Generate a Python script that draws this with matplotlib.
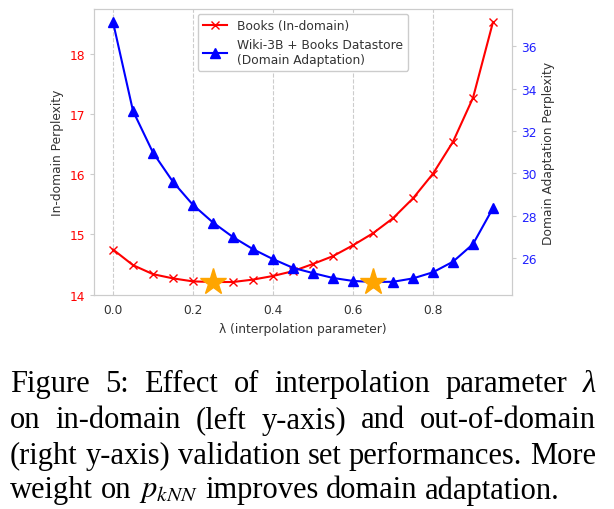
import numpy as np
import matplotlib
matplotlib.use("Agg")
import matplotlib.pyplot as plt

lam = [0.0, 0.05, 0.1, 0.15, 0.2, 0.25, 0.3, 0.35, 0.4, 0.45,
       0.5, 0.55, 0.6, 0.65, 0.7, 0.75, 0.8, 0.85, 0.9, 0.95]
books_ppl = [14.75, 14.49, 14.34, 14.27, 14.22, 14.21, 14.21, 14.25, 14.31, 14.39,
             14.51, 14.64, 14.82, 15.02, 15.27, 15.60, 16.01, 16.54, 17.27, 18.53]
adapt_ppl = [37.15, 32.95, 30.98, 29.60, 28.51, 27.68, 26.99, 26.42, 25.95, 25.54,
             25.29, 25.06, 24.92, 24.87, 24.88, 25.04, 25.33, 25.83, 26.66, 28.36]
best_books = (0.25, 14.21)
best_adapt = (0.65, 24.87)

caption_lines = [
    "Figure 5:  Effect of interpolation parameter λ",
    "on in-domain (left y-axis) and out-of-domain",
    "(right y-axis) validation set performances. More",
    r"weight on $p_{kNN}$ improves domain adaptation.",
]

plt.rcParams["font.family"] = "DejaVu Sans"
plt.rcParams["mathtext.fontset"] = "stix"

W, H = 614, 510
fig = plt.figure(figsize=(W / 100, H / 100), dpi=100)
ax = fig.add_axes([94 / W, 1 - 296 / H, (512 - 94) / W, (296 - 10) / H])
ax2 = ax.twinx()

fs = 8.8
txt = "#333333"
spine_c = "#cccccc"

l1, = ax.plot(lam, books_ppl, color="red", marker="x", markersize=6, lw=1.5,
              label="Books (In-domain)")
l2, = ax2.plot(lam, adapt_ppl, color="blue", marker="^", markersize=7, lw=1.5,
               label="Wiki-3B + Books Datastore\n(Domain Adaptation)")
ax.plot(*best_books, marker="*", color="orange", markersize=20, zorder=5)
ax2.plot(*best_adapt, marker="*", color="orange", markersize=20, zorder=5)

ax.set_xticks([0.0, 0.2, 0.4, 0.6, 0.8])
ax.set_yticks([14, 15, 16, 17, 18])
ax2.set_yticks([26, 28, 30, 32, 34, 36])
ax.xaxis.grid(True, linestyle="--", color="#cccccc", lw=0.8)
ax.set_axisbelow(True)

ax.set_xlabel("λ (interpolation parameter)", fontsize=fs, color=txt)
ax.set_ylabel("In-domain Perplexity", fontsize=fs, color=txt)
ax2.set_ylabel("Domain Adaptation Perplexity", fontsize=fs, color=txt)

ax.tick_params(axis="x", length=0, labelsize=fs, labelcolor=txt, pad=6)
ax.tick_params(axis="y", length=3, color=spine_c, labelsize=fs, labelcolor="red")
ax2.tick_params(axis="y", length=3, color=spine_c, labelsize=fs, labelcolor="#2020ff")
for a in (ax, ax2):
    for s in a.spines.values():
        s.set_color(spine_c)

leg = ax.legend(handles=[l1, l2], loc="upper center", fontsize=fs,
                frameon=True, edgecolor="#cccccc", framealpha=1.0,
                borderaxespad=0.4, handlelength=2.0)
for t in leg.get_texts():
    t.set_color(txt)

# caption, justified word by word
cap_fs = 22
left_px, right_px = 10, 596
line_y = [385, 421, 456, 491]
renderer = fig.canvas.get_renderer()
for i, line in enumerate(caption_lines):
    words = [w for w in line.split(" ") if w]
    y = 1 - line_y[i] / H
    objs = []
    widths = []
    for w in words:
        style = "italic" if w == "λ" else "normal"
        t = fig.text(0, y, w, fontsize=cap_fs, family="Liberation Serif",
                     style=style, va="center", ha="left", color="black")
        widths.append(t.get_window_extent(renderer).width)
        objs.append(t)
    last = i == len(caption_lines) - 1
    if not last:
        gap = (right_px - left_px - sum(widths)) / (len(words) - 1)
    else:
        gap = cap_fs * 0.25 * 100 / 72
    x = left_px
    for k, (t, wd) in enumerate(zip(objs, widths)):
        if not last and k == len(objs) - 1:
            t.set_ha("right")
            t.set_x(right_px / W)
        else:
            t.set_x(x / W)
        x += wd + gap

fig.savefig("out.png", dpi=100)
